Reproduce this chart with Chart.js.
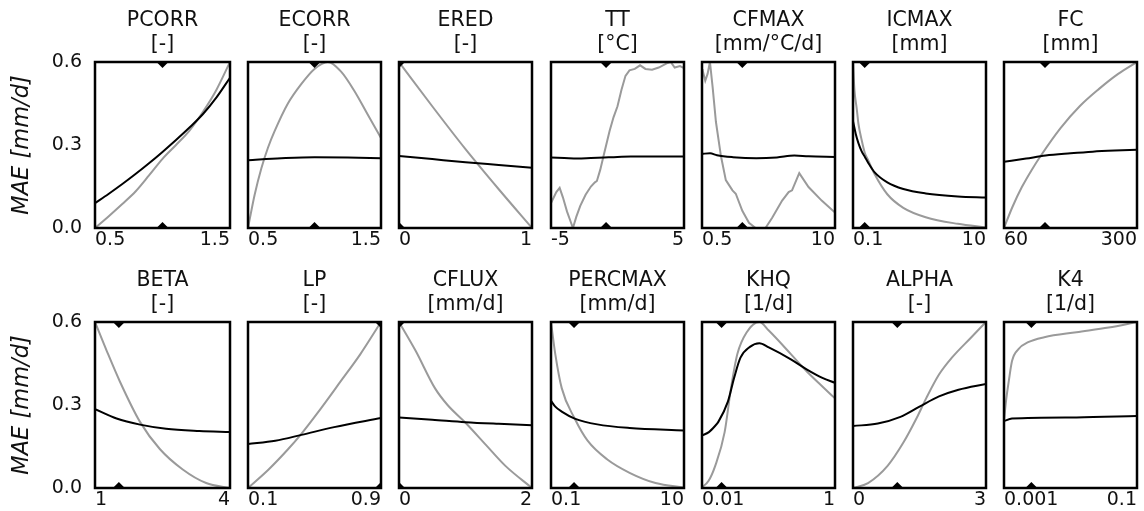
<!DOCTYPE html>
<html>
<head>
<meta charset="utf-8">
<script src="https://cdn.jsdelivr.net/npm/chart.js@4.4.1/dist/chart.umd.min.js"></script>
<style>
  html, body { margin: 0; padding: 0; background: #fff; width: 1144px; height: 511px; overflow: hidden; position: relative; }
  canvas { position: absolute; }
</style>
</head>
<body>
<script>
// ---- parameters, units and axis ranges ----
const paramNames = ['PCORR', 'ECORR', 'ERED', 'TT', 'CFMAX', 'ICMAX', 'FC',
                    'BETA', 'LP', 'CFLUX', 'PERCMAX', 'KHQ', 'ALPHA', 'K4'];
const paramUnits = ['[-]', '[-]', '[-]', '[°C]', '[mm/°C/d]', '[mm]', '[mm]',
                    '[-]', '[-]', '[mm/d]', '[mm/d]', '[1/d]', '[-]', '[1/d]'];
const rangeMin = [0.5, 0.5, 0, -5, 0.5, 0.1, 60, 1, 0.1, 0, 0.1, 0.01, 0, 0.001];
const rangeMax = [1.5, 1.5, 1, 5, 10, 10, 300, 4, 0.9, 2, 10, 1, 3, 0.1];
const logAxis  = [false, false, false, false, true, true, false,
                  false, false, false, true, true, false, true];
const xTickLabels = [['0.5', '1.5'], ['0.5', '1.5'], ['0', '1'], ['-5', '5'], ['0.5', '10'],
                     ['0.1', '10'], ['60', '300'], ['1', '4'], ['0.1', '0.9'], ['0', '2'],
                     ['0.1', '10'], ['0.01', '1'], ['0', '3'], ['0.001', '0.1']];
const yTickValues = [0, 0.3, 0.6];
// calibrated parameter value (diamond markers)
const calibrated = [1.0, 1.0, 0, -0.86, 1.24, 0.15, 134, 1.53, 0.9, 0, 0.222, 0.0197, 1.0, 0.00258];

// ---- MAE response (black) and scaled response (grey) per parameter ----
const pcorrMae = [[0.5,0.09],[0.6,0.123],[0.7,0.158],[0.8,0.195],[0.9,0.234],[1.0,0.275],[1.1,0.318],[1.2,0.363],[1.3,0.412],[1.4,0.472],[1.5,0.543]];
const pcorrScaled = [[0.5,0],[0.6,0.042],[0.7,0.086],[0.8,0.132],[0.9,0.19],[1.0,0.25],[1.1,0.3],[1.2,0.352],[1.3,0.42],[1.4,0.5],[1.5,0.6]];

const ecorrMae = [[0.5,0.245],[0.75,0.252],[1.0,0.256],[1.25,0.255],[1.5,0.252]];
const ecorrScaled = [[0.5,0],[0.55,0.12],[0.6,0.215],[0.65,0.29],[0.7,0.35],[0.8,0.45],[0.9,0.52],[1.0,0.575],[1.1,0.6],[1.2,0.565],[1.3,0.495],[1.4,0.41],[1.5,0.325]];

const eredMae = [[0,0.26],[0.25,0.249],[0.5,0.238],[0.75,0.228],[1,0.218]];
const eredScaled = [[0,0.6],[0.25,0.44],[0.5,0.285],[0.75,0.14],[1,0]];

const ttMae = [[-5,0.255],[-4,0.253],[-3,0.251],[-2,0.253],[-1,0.255],[0,0.257],[1,0.258],[3,0.258],[5,0.258]];
const ttScaled = [[-5,0.09],[-4.6,0.13],[-4.35,0.145],[-4.1,0.11],[-3.8,0.06],[-3.5,0.02],[-3.35,0],[-3.1,0.04],[-2.8,0.08],[-2.4,0.12],[-2.0,0.15],[-1.7,0.165],[-1.55,0.17],[-1.3,0.21],[-1.0,0.27],[-0.6,0.35],[-0.3,0.4],[0,0.44],[0.3,0.5],[0.6,0.55],[0.9,0.57],[1.3,0.575],[1.7,0.588],[2.1,0.575],[2.6,0.572],[3.1,0.58],[3.7,0.595],[4.0,0.6],[4.3,0.58],[4.7,0.585],[5,0.578]];

const cfmaxMae = [[0.5,0.268],[0.6,0.27],[0.7,0.263],[1.0,0.256],[1.7,0.252],[2.7,0.255],[4.0,0.262],[5.5,0.259],[10,0.257]];
const cfmaxScaled = [[0.5,0.575],[0.507,0.57],[0.538,0.532],[0.567,0.557],[0.598,0.6],[0.636,0.507],[0.684,0.384],[0.766,0.26],[0.855,0.173],[0.92,0.155],[0.993,0.136],[1.07,0.124],[1.24,0.062],[1.44,0.019],[1.67,0],[2.09,0],[2.43,0.037],[3.04,0.099],[3.52,0.13],[3.8,0.136],[4.47,0.198],[5.51,0.148],[7.41,0.099],[10,0.056]];

const icmaxMae = [[0.1,0.386],[0.11,0.34],[0.121,0.306],[0.135,0.277],[0.151,0.257],[0.169,0.236],[0.21,0.202],[0.328,0.165],[0.571,0.141],[1.24,0.125],[3.77,0.114],[10,0.11]];
const icmaxScaled = [[0.1,0.6],[0.105,0.5],[0.114,0.43],[0.121,0.375],[0.135,0.318],[0.151,0.27],[0.169,0.245],[0.21,0.196],[0.328,0.122],[0.571,0.073],[1.24,0.039],[3.77,0.015],[10,0.002]];

const fcMae = [[60,0.239],[100,0.251],[135,0.262],[180,0.27],[220,0.276],[260,0.28],[300,0.283]];
const fcScaled = [[60,0],[75,0.075],[92,0.147],[110,0.21],[127,0.263],[162,0.361],[197,0.441],[231,0.502],[266,0.557],[300,0.6]];

const betaMae = [[1,0.285],[1.48,0.251],[2.0,0.229],[2.58,0.214],[3.32,0.206],[4,0.202]];
const betaScaled = [[1,0.6],[1.26,0.496],[1.55,0.386],[2.0,0.239],[2.44,0.141],[2.95,0.067],[3.47,0.018],[4,0]];

const lpMae = [[0.1,0.159],[0.264,0.171],[0.421,0.192],[0.618,0.22],[0.9,0.253]];
const lpScaled = [[0.1,0],[0.224,0.067],[0.342,0.141],[0.421,0.196],[0.539,0.288],[0.658,0.386],[0.776,0.484],[0.9,0.6]];

const cfluxMae = [[0,0.255],[0.5,0.247],[1.0,0.238],[1.5,0.232],[2,0.227]];
const cfluxScaled = [[0,0.6],[0.25,0.496],[0.54,0.361],[0.73,0.3],[1.0,0.236],[1.31,0.155],[1.6,0.08],[2,0]];

const percmaxMae = [[0.1,0.315],[0.116,0.294],[0.145,0.276],[0.227,0.251],[0.497,0.23],[1.52,0.217],[10,0.208]];
const percmaxScaled = [[0.1,0.6],[0.116,0.484],[0.145,0.361],[0.227,0.251],[0.355,0.171],[0.695,0.104],[1.52,0.055],[3.73,0.018],[10,0.002]];

const khqMae = [[0.01,0.19],[0.0127,0.202],[0.0158,0.225],[0.0176,0.239],[0.0245,0.312],[0.0304,0.398],[0.0379,0.471],[0.0525,0.51],[0.0729,0.523],[0.101,0.508],[0.217,0.465],[0.374,0.429],[0.646,0.398],[1,0.38]];
const khqScaled = [[0.01,0.003],[0.0125,0.025],[0.0158,0.08],[0.0219,0.202],[0.0273,0.361],[0.034,0.484],[0.0471,0.563],[0.0729,0.6],[0.101,0.569],[0.217,0.484],[0.374,0.422],[0.646,0.367],[1,0.324]];

const alphaMae = [[0,0.224],[0.56,0.233],[1.07,0.257],[1.5,0.294],[1.94,0.331],[2.38,0.355],[3,0.376]];
const alphaScaled = [[0,0],[0.34,0.018],[0.78,0.08],[1.14,0.165],[1.43,0.251],[1.65,0.324],[1.94,0.41],[2.23,0.471],[2.67,0.545],[3,0.6]];

const k4Mae = [[0.001,0.242],[0.00132,0.251],[0.0123,0.255],[0.1,0.26]];
const k4Scaled = [[0.001,0.245],[0.00108,0.32],[0.00118,0.386],[0.00132,0.459],[0.00165,0.502],[0.00231,0.527],[0.00403,0.545],[0.0123,0.563],[0.0375,0.58],[0.1,0.6]];

const maeSeries = [pcorrMae, ecorrMae, eredMae, ttMae, cfmaxMae, icmaxMae, fcMae,
                   betaMae, lpMae, cfluxMae, percmaxMae, khqMae, alphaMae, k4Mae];
const scaledSeries = [pcorrScaled, ecorrScaled, eredScaled, ttScaled, cfmaxScaled, icmaxScaled, fcScaled,
                      betaScaled, lpScaled, cfluxScaled, percmaxScaled, khqScaled, alphaScaled, k4Scaled];
// noisy responses are drawn with straight segments
const jagged = [false, false, false, true, true, false, false,
                false, false, false, false, false, false, false];

// ---- grid geometry ----
const BOX_LEFTS = [95, 246, 397, 549, 700, 851, 1002];
const BOX_W = 137;
const ROW_TOPS = [0, 260];
const TITLE_H = 62, BOX_H = 166, XAXIS_H = 28, YAXIS_W = 95, SIDE = 4;
const FONT = "'DejaVu Sans', 'Liberation Sans', sans-serif";
const TICK_FS = 19;
const TITLE_FS = 20.5;
const YLABEL_FS = 22.5;
const GREY = '#9a9a9a';
const INK = '#111';

Chart.defaults.font.family = FONT;
Chart.defaults.color = INK;

const framePlugin = {
  id: 'frame',
  afterDatasetsDraw(chart) {
    const { ctx, chartArea: a } = chart;
    ctx.save();
    ctx.strokeStyle = '#000';
    ctx.lineWidth = 2.5;
    ctx.strokeRect(a.left, a.top, a.right - a.left, a.bottom - a.top);
    ctx.restore();
  }
};

const toXY = arr => arr.map(p => ({ x: p[0], y: p[1] }));

paramNames.forEach((name, i) => {
  const row = Math.floor(i / 7), col = i % 7;
  const leftExtra = col === 0 ? YAXIS_W : SIDE;
  const cv = document.createElement('canvas');
  const w = leftExtra + BOX_W + SIDE;
  const h = TITLE_H + BOX_H + XAXIS_H;
  cv.width = w; cv.height = h;
  cv.style.left = (BOX_LEFTS[col] - leftExtra) + 'px';
  cv.style.top = ROW_TOPS[row] + 'px';
  cv.style.width = w + 'px'; cv.style.height = h + 'px';
  document.body.appendChild(cv);

  const xmin = rangeMin[i], xmax = rangeMax[i], labels = xTickLabels[i];
  const c = calibrated[i];

  const yScale = {
    type: 'linear', min: 0, max: 0.6, display: col === 0,
    afterBuildTicks: s => { s.ticks = yTickValues.map(v => ({ value: v })); },
    ticks: { callback: v => Number(v).toFixed(1), padding: 13, color: INK, font: { size: TICK_FS } },
    grid: { display: false, drawTicks: false }, border: { display: false },
    title: { display: true, text: 'MAE [mm/d]', color: INK,
             font: { size: YLABEL_FS, style: 'italic' }, padding: { top: 9, bottom: 0 } }
  };
  if (col === 0) yScale.afterFit = s => { s.width = YAXIS_W; };

  new Chart(cv, {
    type: 'line',
    data: {
      datasets: [
        { data: toXY(maeSeries[i]), borderColor: '#000', borderWidth: 2, pointRadius: 0,
          cubicInterpolationMode: 'monotone', fill: false, order: 1 },
        { data: toXY(scaledSeries[i]), borderColor: GREY, borderWidth: 2, pointRadius: 0,
          cubicInterpolationMode: jagged[i] ? 'default' : 'monotone', tension: 0, fill: false, order: 2 },
        { data: [{ x: c, y: 0.6 }, { x: c, y: 0 }], showLine: false, pointStyle: 'rectRot',
          pointRadius: 6, backgroundColor: '#000', borderWidth: 0, clip: 0, order: 0 }
      ]
    },
    options: {
      responsive: false, maintainAspectRatio: false, animation: false, events: [],
      layout: { padding: { left: col === 0 ? 0 : SIDE, right: SIDE, top: 0, bottom: 0 } },
      plugins: {
        legend: { display: false }, tooltip: { enabled: false },
        title: { display: true, text: [name, paramUnits[i]], fullSize: false, color: INK,
                 font: { size: TITLE_FS, weight: 'normal', lineHeight: 1.15 },
                 padding: { top: 9.2, bottom: 5.65 } }
      },
      scales: {
        x: {
          type: logAxis[i] ? 'logarithmic' : 'linear', min: xmin, max: xmax,
          afterBuildTicks: s => { s.ticks = [{ value: xmin }, { value: xmax }]; },
          afterFit: s => { s.height = XAXIS_H; },
          ticks: { callback: (v, k) => labels[k], align: 'inner', padding: 1, maxRotation: 0,
                   autoSkip: false, color: INK, font: { size: TICK_FS } },
          grid: { display: false, drawTicks: false }, border: { display: false }
        },
        y: yScale
      }
    },
    plugins: [framePlugin]
  });
});
</script>
</body>
</html>
